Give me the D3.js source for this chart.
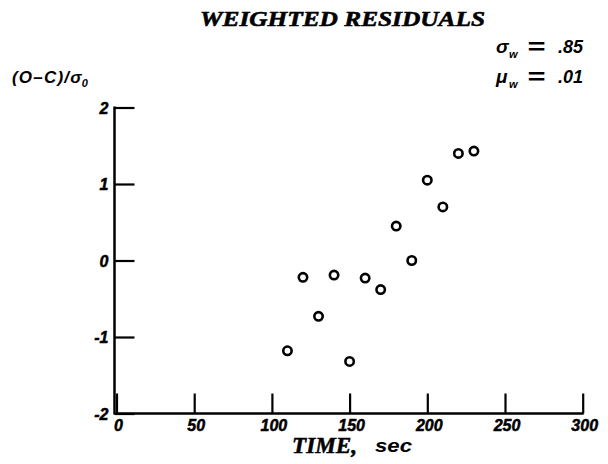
<!DOCTYPE html>
<html><head><meta charset="utf-8">
<script src="https://cdn.jsdelivr.net/npm/d3@7"></script>
<style>body{margin:0;background:#fff}svg{display:block}</style>
</head><body>
<script>
const timeSec = [110,120,130,140,150,160,170,180,190,200,210,220,230];
const residual = [-1.18,-0.22,-0.73,-0.19,-1.32,-0.23,-0.38,0.45,0.0,1.05,0.70,1.40,1.43];
const xTicks = [0,50,100,150,200,250,300];
const yTicks = [-2,-1,0,1,2];
const yTickLabels = ["-2","-1","0","1","2"];
const titleText = "WEIGHTED RESIDUALS";
const statSigma = ".85";
const statMu = ".01";

const W=608,H=464;
const svg=d3.select("body").append("svg").attr("width",W).attr("height",H);
const x=d3.scaleLinear().domain([0,300]).range([116.5,582.7]);
const y=d3.scaleLinear().domain([-2,2]).range([413.5,107.5]);
const ink="#000";
const sansBI="'Liberation Sans', Arial, sans-serif";
const serifBI="'Liberation Serif', 'DejaVu Serif', serif";
function bi(sel,fam,size){return sel.attr("font-family",fam).attr("font-weight","bold").attr("font-style","italic").attr("font-size",size).attr("fill",ink);}

// axes
const xAxis=d3.axisTop(x).tickValues(xTicks).tickSize(20).tickFormat("");
const gx=svg.append("g").attr("transform",`translate(0,${y(-2)})`).call(xAxis);
gx.select(".domain").remove();
gx.selectAll("line").attr("stroke",ink).attr("stroke-width",2.2);
svg.append("line").attr("x1",x(0)-1).attr("x2",x(300)+1).attr("y1",y(-2)).attr("y2",y(-2)).attr("stroke",ink).attr("stroke-width",2.5);

const yAxis=d3.axisRight(y).tickValues(yTicks).tickSize(20).tickFormat("");
const gy=svg.append("g").attr("transform",`translate(${x(0)-2},0)`).call(yAxis);
gy.select(".domain").remove();
gy.selectAll("line").attr("stroke",ink).attr("stroke-width",2.2);
svg.append("line").attr("x1",x(0)-2).attr("x2",x(0)-2).attr("y1",y(2)-1).attr("y2",y(-2)+1).attr("stroke",ink).attr("stroke-width",2.5);

// tick labels
bi(svg.selectAll(".xl").data(xTicks).join("text"),sansBI,16)
  .attr("x",d=>x(d)+2).attr("y",y(-2)+17)
  .attr("text-anchor","middle").attr("stroke",ink).attr("stroke-width",0.5).text(d=>d);
bi(svg.selectAll(".yl").data(yTicks).join("text"),sansBI,16)
  .attr("x",x(0)-8).attr("y",(d)=>y(d)+6)
  .attr("text-anchor","end").attr("stroke",ink).attr("stroke-width",0.5).text((d,i)=>yTickLabels[i]);

// points
svg.selectAll("circle").data(timeSec).join("circle")
  .attr("cx",d=>x(d)).attr("cy",(d,i)=>y(residual[i])).attr("r",4.2)
  .attr("fill","none").attr("stroke",ink).attr("stroke-width",2.6);

// title
bi(svg.append("text"),serifBI,22).attr("x",200).attr("y",26)
  .attr("textLength",285).attr("lengthAdjust","spacingAndGlyphs")
  .attr("stroke",ink).attr("stroke-width",0.6).text(titleText);

// x label
bi(svg.append("text"),serifBI,23).attr("x",292).attr("y",453)
  .attr("textLength",65).attr("lengthAdjust","spacingAndGlyphs")
  .attr("stroke",ink).attr("stroke-width",0.5).text("TIME,");
bi(svg.append("text"),sansBI,19).attr("x",375).attr("y",452)
  .attr("textLength",37).attr("lengthAdjust","spacingAndGlyphs").text("sec");

// y label
const yl=bi(svg.append("text"),sansBI,17).attr("x",12).attr("y",83).attr("letter-spacing",1.2);
yl.append("tspan").text("(O–C)/σ");
yl.append("tspan").attr("font-size",11).attr("dy",4).attr("dx",-1).text("0");

// stats
function stat(yy,sym,val){
  bi(svg.append("text"),sansBI,19).attr("x",496).attr("y",yy).text(sym);
  bi(svg.append("text"),sansBI,11).attr("x",509).attr("y",yy+5).text("w");
  bi(svg.append("text"),sansBI,22).attr("x",536).attr("y",yy+1).attr("text-anchor","middle")
    .attr("textLength",18).attr("lengthAdjust","spacingAndGlyphs").text("=");
  bi(svg.append("text"),sansBI,18).attr("x",583).attr("y",yy).attr("text-anchor","end").text(val);
}
stat(53,"σ",statSigma);
stat(83,"μ",statMu);
</script>
</body></html>
